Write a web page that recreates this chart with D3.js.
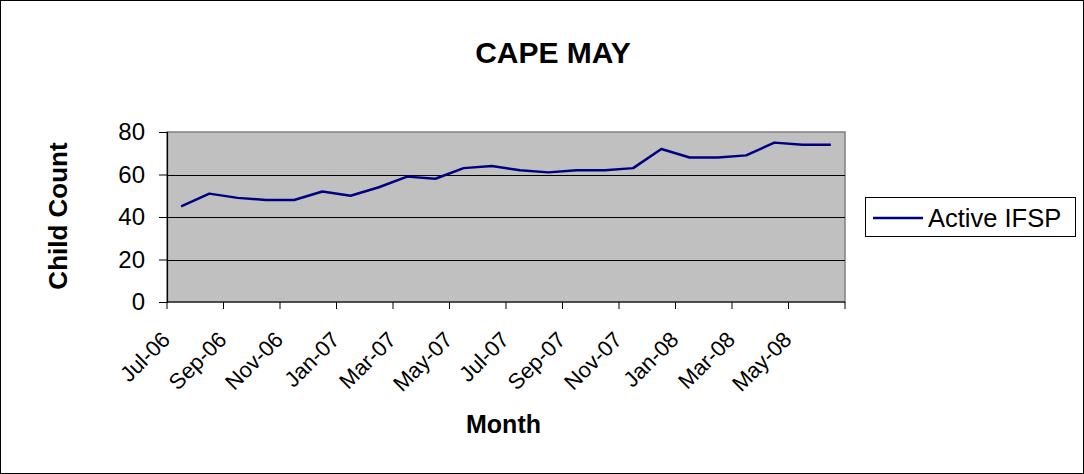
<!DOCTYPE html>
<html><head><meta charset="utf-8">
<script src="https://cdn.jsdelivr.net/npm/d3@7"></script>
<style>body{margin:0;background:#fff}svg{display:block;font-family:"Liberation Sans",Arial,sans-serif}</style>
</head><body><svg id="c" width="1084" height="474"></svg>
<script>
const months = ["Jul-06","Aug-06","Sep-06","Oct-06","Nov-06","Dec-06","Jan-07","Feb-07","Mar-07","Apr-07","May-07","Jun-07","Jul-07","Aug-07","Sep-07","Oct-07","Nov-07","Dec-07","Jan-08","Feb-08","Mar-08","Apr-08","May-08","Jun-08"];
const activeIFSP = [45,51,49,48,48,52,50,54,59,58,63,64,62,61,62,62,63,72,68,68,69,75,74,74];
const yTicks = [0,20,40,60,80];
const title = "CAPE MAY", xTitle = "Month", yTitle = "Child Count", seriesName = "Active IFSP";

const svg = d3.select("#c");
svg.append("rect").attr("x",0.5).attr("y",0.5).attr("width",1083).attr("height",473).attr("fill","#fff").attr("stroke","#000");
const L=167,R=845,T=132,B=302;
const x = d3.scaleBand().domain(months).range([L,R]);
const y = d3.scaleLinear().domain([0,80]).range([B,T]);

svg.append("rect").attr("x",L).attr("y",T).attr("width",R-L).attr("height",B-T).attr("fill","#c0c0c0").attr("stroke","#808080").attr("stroke-width",1.5);
svg.append("g").selectAll("line").data(yTicks.filter(v=>v>0&&v<80)).join("line")
  .attr("x1",L).attr("x2",R).attr("y1",d=>Math.round(y(d))+0.5).attr("y2",d=>Math.round(y(d))+0.5).attr("stroke","#000");

// y axis
const ya = svg.append("g").attr("transform",`translate(${L},0)`).call(d3.axisLeft(y).tickValues(yTicks).tickSize(8).tickPadding(14));
ya.select(".domain").attr("stroke","#000").attr("stroke-width",1.2);
ya.selectAll("line").attr("stroke","#000");
ya.selectAll("text").attr("font-size",24).attr("fill","#000").attr("font-family","Liberation Sans, Arial");

// x axis
const xa = svg.append("g").attr("transform",`translate(0,${B})`);
const step = x.step();
const tickPos = d3.range(0, months.length+1, 2).map(i=>L+i*step);
xa.append("line").attr("x1",L).attr("x2",R).attr("y1",0).attr("y2",0).attr("stroke","#000").attr("stroke-width",1.2);
xa.selectAll("line.t").data(tickPos).join("line").attr("class","t").attr("x1",d=>d).attr("x2",d=>d).attr("y1",0).attr("y2",7).attr("stroke","#000");
xa.selectAll("text").data(months.filter((m,i)=>i%2===0)).join("text")
  .attr("transform",d=>`translate(${x(d)+4.5},39) rotate(-45)`)
  .attr("text-anchor","end").attr("font-size",22).attr("fill","#000").text(d=>d);

// line
const line = d3.line().x((d,i)=>x(months[i])+step/2).y(d=>y(d));
svg.append("path").datum(activeIFSP).attr("d",line).attr("fill","none").attr("stroke","#000080").attr("stroke-width",2.5).attr("stroke-linejoin","round");

// titles
svg.append("text").attr("x",553).attr("y",63).attr("text-anchor","middle").attr("font-size",30).attr("font-weight","bold").text(title);
svg.append("text").attr("x",503.5).attr("y",433).attr("text-anchor","middle").attr("font-size",25).attr("font-weight","bold").text(xTitle);
svg.append("text").attr("transform","translate(67,216) rotate(-90)").attr("text-anchor","middle").attr("font-size",26).attr("font-weight","bold").text(yTitle);

// legend
const lg = svg.append("g");
lg.append("rect").attr("x",865.5).attr("y",197.5).attr("width",210).attr("height",39).attr("fill","#fff").attr("stroke","#000");
lg.append("line").attr("x1",873).attr("x2",923).attr("y1",218).attr("y2",218).attr("stroke","#000080").attr("stroke-width",2.5);
lg.append("text").attr("x",928).attr("y",227).attr("font-size",25.5).text(seriesName);
</script></body></html>
